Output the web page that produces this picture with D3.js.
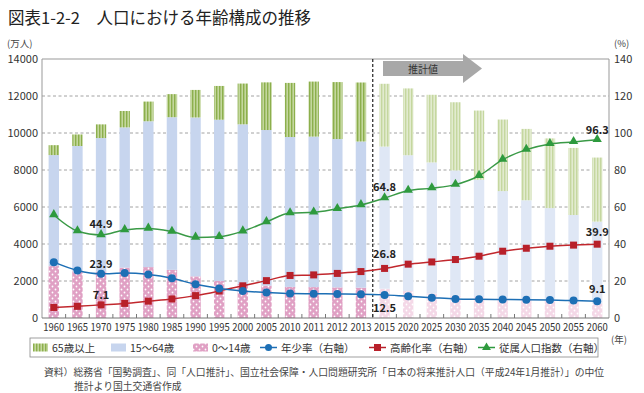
<!DOCTYPE html>
<html>
<head>
<meta charset="utf-8">
<script src="https://cdn.jsdelivr.net/npm/d3@7"></script>
<style>
body { margin: 0; background: #fff; }
svg text { font-family: "Noto Sans CJK JP", "Noto Sans", sans-serif; }
</style>
</head>
<body>
<svg id="chart" width="644" height="393"></svg>
<script>
// years (categories)
var years = ["1960","1965","1970","1975","1980","1985","1990","1995","2000","2005","2010","2011","2012","2013",
  "2015","2020","2025","2030","2035","2040","2045","2050","2055","2060"];
var projStart = 14; // first projected year index
// population, 10k people
var age0_14 = [2807,2553,2515,2722,2751,2603,2249,2001,1847,1752,1680,1671,1655,1639,
  1583,1457,1324,1204,1129,1073,1012,939,861,791];
var age15_64 = [6000,6744,7212,7581,7883,8251,8590,8716,8622,8409,8103,8134,8018,7901,
  7682,7341,7085,6773,6343,5787,5353,5001,4706,4418];
var age65 = [535,624,739,887,1065,1247,1489,1826,2204,2576,2925,2975,3079,3190,
  3395,3612,3657,3685,3741,3868,3856,3768,3626,3464];
// rates, %
var youthRate = [30.2,25.7,23.9,24.3,23.5,21.5,18.2,16.0,14.6,13.8,13.2,13.1,13.0,12.9,
  12.5,11.7,11.0,10.3,10.1,10.0,9.9,9.7,9.4,9.1];
var agingRate = [5.7,6.3,7.1,7.9,9.1,10.3,12.1,14.6,17.4,20.2,23.0,23.3,24.1,25.1,
  26.8,29.1,30.3,31.6,33.4,36.1,37.7,38.8,39.4,39.9];
var depRatio = [55.7,47.0,44.9,47.6,48.4,46.7,43.5,43.9,46.9,51.9,56.7,57.1,59.0,61.1,
  64.8,68.9,70.2,72.1,76.9,85.6,91.0,94.1,95.2,96.3];
var leftTicks = [0,2000,4000,6000,8000,10000,12000,14000];
var rightTicks = [0,20,40,60,80,100,120,140];

var svg = d3.select("#chart");
var L = 42, R = 609, T = 59, B = 318;

var x = d3.scaleBand().domain(years).range([L, R]).paddingInner(0.56).paddingOuter(0.28);
var step = x.step();
var y = d3.scaleLinear().domain([0, 14000]).range([B, T]);
var y2 = d3.scaleLinear().domain([0, 140]).range([B, T]);

// patterns
var defs = svg.append("defs");
function stripe(id, bg, fg) {
  var p = defs.append("pattern").attr("id", id).attr("patternUnits", "userSpaceOnUse")
    .attr("width", 3).attr("height", 3);
  p.append("rect").attr("width", 3).attr("height", 3).attr("fill", bg);
  p.append("rect").attr("width", 1.4).attr("height", 3).attr("fill", fg);
}
function dots(id, bg) {
  var p = defs.append("pattern").attr("id", id).attr("patternUnits", "userSpaceOnUse")
    .attr("width", 6).attr("height", 6);
  p.append("rect").attr("width", 6).attr("height", 6).attr("fill", bg);
  p.append("circle").attr("cx", 1.5).attr("cy", 1.5).attr("r", 0.9).attr("fill", "#fff");
  p.append("circle").attr("cx", 4.5).attr("cy", 4.5).attr("r", 0.9).attr("fill", "#fff");
}
stripe("g65", "#c4d79e", "#8caf4c");
stripe("g65p", "#e2ebcf", "#c5d79f");
dots("p014", "#e0a0c4");
dots("p014p", "#f4d8e7");

// title
svg.append("text").attr("x", 8).attr("y", 24).attr("font-size", 16.5).attr("fill", "#222")
  .text("図表1-2-2　人口における年齢構成の推移");
svg.append("text").attr("x", 7).attr("y", 47).attr("font-size", 9.5).attr("fill", "#444").text("(万人)");
svg.append("text").attr("x", 614).attr("y", 47).attr("font-size", 9.5).attr("fill", "#444").text("(%)");

// grid
svg.append("g").selectAll("line").data(leftTicks.filter(function(d){ return d > 0 && d < 14000; }))
  .enter().append("line")
  .attr("x1", L).attr("x2", R).attr("y1", function(d){ return y(d); }).attr("y2", function(d){ return y(d); })
  .attr("stroke", "#8a8a8a").attr("stroke-width", 0.8).attr("stroke-dasharray", "3,2.5");

// bars
var gb = svg.append("g");
years.forEach(function(yr, i) {
  var proj = i >= projStart;
  var bx = x(yr), bw = x.bandwidth();
  var a = age0_14[i], b = age15_64[i], c = age65[i];
  gb.append("rect").attr("x", bx).attr("width", bw).attr("y", y(a)).attr("height", y(0) - y(a))
    .attr("fill", proj ? "url(#p014p)" : "url(#p014)");
  gb.append("rect").attr("x", bx).attr("width", bw).attr("y", y(a + b)).attr("height", y(a) - y(a + b))
    .attr("fill", proj ? "#dfe7f5" : "#c7d5ee");
  gb.append("rect").attr("x", bx).attr("width", bw).attr("y", y(a + b + c)).attr("height", y(a + b) - y(a + b + c))
    .attr("fill", proj ? "url(#g65p)" : "url(#g65)");
});

// frame / axes
svg.append("line").attr("x1", L).attr("x2", R).attr("y1", T).attr("y2", T).attr("stroke", "#999");
svg.append("line").attr("x1", L).attr("x2", L).attr("y1", T).attr("y2", B).attr("stroke", "#999");
svg.append("line").attr("x1", R).attr("x2", R).attr("y1", T).attr("y2", B).attr("stroke", "#999");
svg.append("line").attr("x1", L).attr("x2", R).attr("y1", B).attr("y2", B).attr("stroke", "#777");

var yAxisL = svg.append("g").attr("transform", "translate(" + L + ",0)")
  .call(d3.axisLeft(y).tickValues(leftTicks).tickFormat(d3.format("d")).tickSize(0).tickPadding(4));
yAxisL.select(".domain").remove();
var yAxisR = svg.append("g").attr("transform", "translate(" + R + ",0)")
  .call(d3.axisRight(y2).tickValues(rightTicks).tickFormat(d3.format("d")).tickSize(0).tickPadding(5));
yAxisR.select(".domain").remove();
svg.selectAll(".tick text").attr("font-size", 11).attr("fill", "#333")
  .attr("font-family", "Liberation Sans, sans-serif");

var xAxis = svg.append("g").attr("transform", "translate(0," + B + ")")
  .call(d3.axisBottom(x).tickSize(0).tickPadding(5));
xAxis.select(".domain").remove();
xAxis.selectAll("text").attr("font-size", 11).attr("fill", "#333")
  .attr("font-family", "Liberation Sans, sans-serif")
  .attr("textLength", 21).attr("lengthAdjust", "spacingAndGlyphs");
// little ticks between categories
svg.append("g").selectAll("line").data(d3.range(1, years.length)).enter().append("line")
  .attr("x1", function(d){ return L + step * d; }).attr("x2", function(d){ return L + step * d; })
  .attr("y1", B).attr("y2", B - 4).attr("stroke", "#777");
svg.append("text").attr("x", 611).attr("y", 343).attr("font-size", 9.5).attr("fill", "#444").text("(年)");

// projection divider
var divX = L + step * projStart;
svg.append("line").attr("x1", divX).attr("x2", divX).attr("y1", T).attr("y2", B)
  .attr("stroke", "#222").attr("stroke-width", 1.2).attr("stroke-dasharray", "3,2");

// arrow
svg.append("path").attr("d", "M383,61 L463,61 L463,54 L482,68.5 L463,83 L463,76 L383,76 Z").attr("fill", "#a8a8a8");
svg.append("text").attr("x", 423).attr("y", 72.5).attr("text-anchor", "middle").attr("font-size", 10)
  .attr("fill", "#333").text("推計値");

// lines
var cx = function(d, i){ return x(years[i]) + x.bandwidth() / 2; };
function series(vals, color) {
  svg.append("path").datum(vals)
    .attr("d", d3.line().x(cx).y(function(d){ return y2(d); }).curve(d3.curveMonotoneX))
    .attr("fill", "none").attr("stroke", color).attr("stroke-width", 1.5);
}
series(depRatio, "#3a9a46");
series(agingRate, "#c1272d");
series(youthRate, "#1d6fb5");

var sym = d3.symbol();
svg.append("g").selectAll("path").data(depRatio).enter().append("path")
  .attr("transform", function(d, i){ return "translate(" + cx(d, i) + "," + (y2(d) - 0.5) + ")"; })
  .attr("d", sym.type(d3.symbolTriangle).size(38)()).attr("fill", "#2e9a3e");
svg.append("g").selectAll("rect").data(agingRate).enter().append("rect")
  .attr("x", function(d, i){ return cx(d, i) - 3.5; }).attr("y", function(d){ return y2(d) - 3.5; })
  .attr("width", 7).attr("height", 7).attr("fill", "#b8202a");
svg.append("g").selectAll("circle").data(youthRate).enter().append("circle")
  .attr("cx", cx).attr("cy", function(d){ return y2(d); }).attr("r", 4).attr("fill", "#1d6fb5");

// value labels
var labels = [
  {i: 2, v: depRatio[2], dy: -11, t: "44.9"},
  {i: 2, v: youthRate[2], dy: -10, t: "23.9"},
  {i: 2, v: agingRate[2], dy: -10, t: "7.1"},
  {i: 14, v: depRatio[14], dy: -11, t: "64.8"},
  {i: 14, v: agingRate[14], dy: -14, t: "26.8"},
  {i: 14, v: youthRate[14], dy: 13, t: "12.5"},
  {i: 23, v: depRatio[23], dy: -10, t: "96.3"},
  {i: 23, v: agingRate[23], dy: -12, t: "39.9"},
  {i: 23, v: youthRate[23], dy: -12, t: "9.1"}
];
svg.append("g").selectAll("text").data(labels).enter().append("text")
  .attr("x", function(d){ return x(years[d.i]) + x.bandwidth() / 2; })
  .attr("y", function(d){ return y2(d.v) + d.dy + 4; })
  .attr("text-anchor", "middle").attr("font-size", 11).attr("font-weight", "bold").attr("fill", "#222")
  .attr("font-family", "Liberation Sans, sans-serif")
  .text(function(d){ return d.t; });

// legend
var lg = svg.append("g");
lg.append("rect").attr("x", 30).attr("y", 338).attr("width", 568).attr("height", 19)
  .attr("fill", "#fff").attr("stroke", "#888").attr("stroke-width", 0.8);
var ly = 347.5;
var swatches = [
  {x: 33, fill: "url(#g65)", t: "65歳以上"},
  {x: 111, fill: "#c7d5ee", t: "15～64歳"},
  {x: 193, fill: "url(#p014)", t: "0～14歳"}
];
swatches.forEach(function(s) {
  lg.append("rect").attr("x", s.x).attr("y", ly - 4).attr("width", 15).attr("height", 8).attr("fill", s.fill);
  lg.append("text").attr("x", s.x + 19).attr("y", ly + 4).attr("font-size", 10.5).attr("fill", "#333").text(s.t);
});
var lineKeys = [
  {x: 260, c: "#1d6fb5", type: "circle", t: "年少率（右軸）"},
  {x: 369, c: "#b8202a", type: "square", t: "高齢化率（右軸）"},
  {x: 478, c: "#2e9a3e", type: "triangle", t: "従属人口指数（右軸）"}
];
lineKeys.forEach(function(k) {
  lg.append("line").attr("x1", k.x).attr("x2", k.x + 17).attr("y1", ly).attr("y2", ly)
    .attr("stroke", k.c).attr("stroke-width", 1.5);
  var m = k.x + 8.5;
  if (k.type === "circle") lg.append("circle").attr("cx", m).attr("cy", ly).attr("r", 3.5).attr("fill", k.c);
  if (k.type === "square") lg.append("rect").attr("x", m - 3.5).attr("y", ly - 3.5).attr("width", 7).attr("height", 7).attr("fill", k.c);
  if (k.type === "triangle") lg.append("path").attr("transform", "translate(" + m + "," + ly + ")")
    .attr("d", d3.symbol().type(d3.symbolTriangle).size(34)()).attr("fill", k.c);
  lg.append("text").attr("x", k.x + 21).attr("y", ly + 4).attr("font-size", 10.5).attr("fill", "#333").text(k.t);
});

// source note
svg.append("text").attr("x", 44).attr("y", 376).attr("font-size", 9.8).attr("fill", "#444")
  .text("資料）総務省「国勢調査」、同「人口推計」、国立社会保障・人口問題研究所「日本の将来推計人口（平成24年1月推計）」の中位");
svg.append("text").attr("x", 74).attr("y", 390).attr("font-size", 9.8).attr("fill", "#444")
  .text("推計より国土交通省作成");
</script>
</body>
</html>
